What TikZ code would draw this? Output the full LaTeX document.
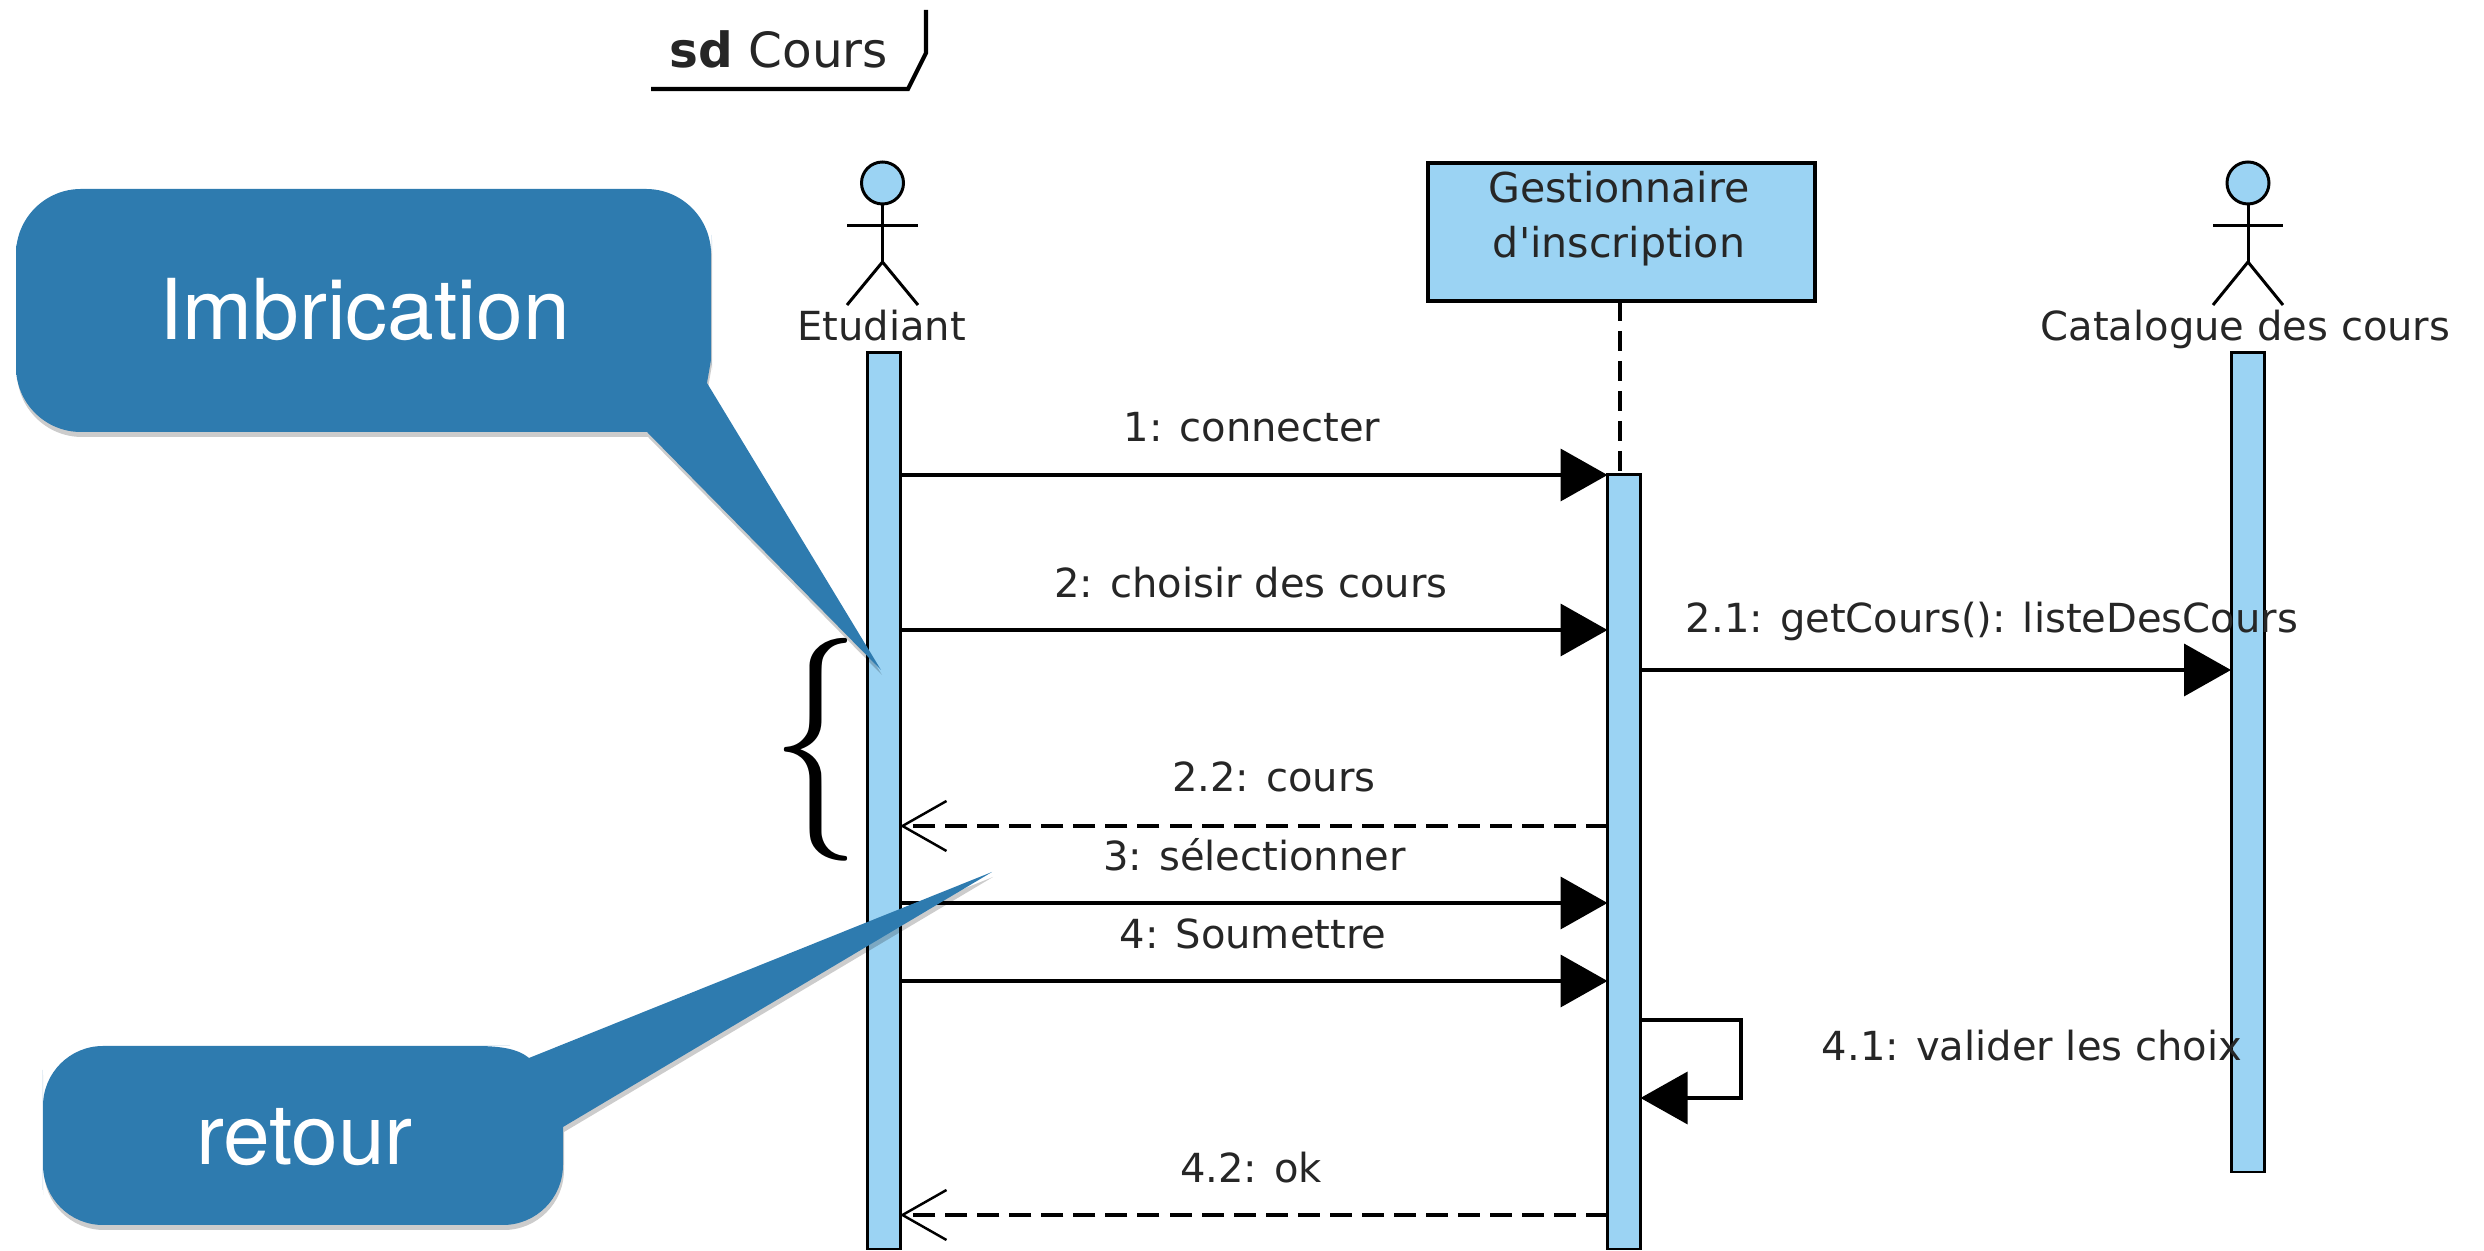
\documentclass[tikz,border=0pt]{standalone}
\usepackage{fontspec}
\setmainfont{DejaVu Sans}
\newfontfamily\bubblefont{TeX Gyre Heros}
\newfontfamily\bracefont{Latin Modern Roman}
\usepackage{tikz}
\usetikzlibrary{arrows.meta,shadows}

\definecolor{barblue}{HTML}{9BD3F3}
\definecolor{bubbleblue}{HTML}{2E7BAF}

\tikzset{
    bar/.style={draw,line width=0.85pt,fill=barblue,minimum width=0.33cm,inner sep=0,outer sep=0},
    classbox/.style={draw,line width=0.95pt,fill=barblue,inner sep=0,outer sep=0,
        minimum width=3.87cm,minimum height=1.38cm},
    head/.style={circle,draw,line width=0.85pt,fill=barblue,minimum size=0.42cm,inner sep=0},
    actor/.style={line width=0.85pt},
    msg/.style={anchor=base,inner sep=0,font=\fontsize{11.4pt}{15.4pt}\selectfont,text=black!85},
    classlabel/.style={align=center,inner sep=0,text=black!85,font=\fontsize{11.7pt}{15.6pt}\selectfont},
    syncmsg/.style={line width=1.1pt,-{Triangle[length=0.47cm,width=0.52cm]}},
    replymsg/.style={line width=1.1pt,dash pattern=on 0.22cm off 0.1cm,
        -{Straight Barb[length=0.44cm,width=0.5cm,line width=0.7pt]}},
    lifeline/.style={line width=1pt,dash pattern=on 0.2cm off 0.1cm},
    bubble/.style={fill=bubbleblue,
        drop shadow={shadow xshift=0.01cm,shadow yshift=-0.05cm,opacity=0.2,fill=black}},
    bubbletext/.style={text=white,inner sep=0,font=\bubblefont\fontsize{23.9pt}{28pt}\selectfont}
}

\begin{document}
\begin{tikzpicture}
    \useasboundingbox (0,0) rectangle (24.84,-12.51);

    \coordinate (tabstart) at (6.51,-0.89);
    \coordinate (tabbend) at (9.08,-0.89);
    \coordinate (tabfold) at (9.26,-0.53);
    \coordinate (tabtop) at (9.26,-0.10);
    \draw [line width=1.2pt] (tabstart) -- (tabbend) -- (tabfold) -- (tabtop);
    \node [anchor=base west,inner sep=0,text=black!85,font=\fontsize{13.8pt}{16pt}\selectfont] (frametitle) at (6.69,-0.68)%
        {\textbf{sd} Cours};

    \node [head] (etudianthead) at (8.825,-1.83) {};
    \draw [actor] (etudianthead.south) -- (8.825,-2.62);
    \draw [actor] (8.47,-2.26) -- (9.18,-2.26);
    \draw [actor] (8.47,-3.05) -- (8.825,-2.62) -- (9.18,-3.05);
    \node [msg] (etudiantlabel) at (8.815,-3.41) {Etudiant};

    \node [classbox] (gestionbox) at (16.215,-2.32) {};
    \node [classlabel] (gestionlabel) at (16.19,-2.19)%
        {Gestionnaire\\d\textquotesingle inscription};

    \node [head] (cataloguehead) at (22.48,-1.83) {};
    \draw [actor] (cataloguehead.south) -- (22.48,-2.62);
    \draw [actor] (22.13,-2.26) -- (22.83,-2.26);
    \draw [actor] (22.13,-3.05) -- (22.48,-2.62) -- (22.83,-3.05);
    \node [msg] (cataloguelabel) at (22.455,-3.41) {Catalogue des cours};

    \node [bar,minimum height=8.96cm] (etudiantbar) at (8.835,-8.01) {};
    \node [bar,minimum height=7.74cm] (gestionbar) at (16.24,-8.62) {};
    \node [bar,minimum height=8.19cm] (cataloguebar) at (22.475,-7.625) {};
    \draw [lifeline] ([xshift=-0.015cm]gestionbox.south) -- ([xshift=-0.015cm]gestionbox.south |- gestionbar.north);

    \draw [syncmsg] (etudiantbar.east |- 0,-4.75) -- (gestionbar.west |- 0,-4.75);
    \node [msg] (connecter) at (12.52,-4.42) {1: connecter};

    \draw [syncmsg] (etudiantbar.east |- 0,-6.30) -- (gestionbar.west |- 0,-6.30);
    \node [msg] (choisir) at (12.51,-5.98) {2: choisir des cours};

    \draw [syncmsg] (gestionbar.east |- 0,-6.70) -- (cataloguebar.west |- 0,-6.70);
    \node [msg] (getcours) at (19.92,-6.33) {2.1: getCours(): listeDesCours};

    \draw [replymsg] (gestionbar.west |- 0,-8.26) -- (etudiantbar.east |- 0,-8.26);
    \node [msg] (cours) at (12.74,-7.92) {2.2: cours};

    \draw [syncmsg] (etudiantbar.east |- 0,-9.03) -- (gestionbar.west |- 0,-9.03);
    \node [msg] (selectionner) at (12.545,-8.71) {3: sélectionner};

    \draw [syncmsg] (etudiantbar.east |- 0,-9.81) -- (gestionbar.west |- 0,-9.81);
    \node [msg] (soumettre) at (12.53,-9.49) {4: Soumettre};

    \draw [syncmsg,line width=0.95pt] (gestionbar.east |- 0,-10.20) -- (17.41,-10.20)
        -- (17.41,-10.98) -- (gestionbar.east |- 0,-10.98);
    \node [msg] (valider) at (20.32,-10.61) {4.1: valider les choix};

    \draw [replymsg] (gestionbar.west |- 0,-12.15) -- (etudiantbar.east |- 0,-12.15);
    \node [msg] (ok) at (12.51,-11.83) {4.2: ok};

    \node [anchor=base west,inner sep=0,xscale=0.8,transform shape,font=\bracefont\fontsize{63.4pt}{70pt}\selectfont] (imbrace) at (7.71,-8.06)%
        {\{};

    \fill [bubble] (0.16,-3.1) [rounded corners=0.65cm] -- (0.16,-1.89) -- (7.11,-1.89)
        -- (7.11,-3.0) [sharp corners] -- (7.11,-3.6) -- (7.07,-3.83) -- (8.81,-6.70)
        -- (6.47,-4.32) -- (5.8,-4.32) [rounded corners=0.65cm] -- (0.16,-4.32) -- cycle;
    \node [bubbletext] (imbrication) at (3.645,-3.10) {Imbrication};

    \fill [bubble] (0.43,-11.3) [rounded corners=0.6cm] -- (0.43,-10.46) -- (4.5,-10.46)
        [sharp corners] -- (4.75,-10.46) .. controls (4.98,-10.46) and (5.17,-10.48) .. (5.29,-10.58)
        -- (9.92,-8.72) -- (5.63,-11.27) -- (5.63,-11.6)
        [rounded corners=0.6cm] -- (5.63,-12.25) -- (0.43,-12.25) -- cycle;
    \node [bubbletext] (retour) at (3.045,-11.37) {retour};
\end{tikzpicture}
\end{document}
